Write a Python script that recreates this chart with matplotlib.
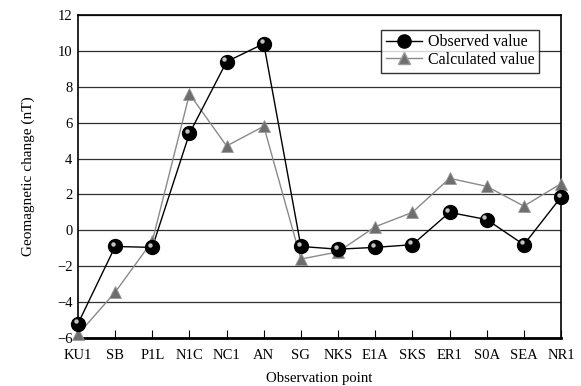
import numpy as np
import matplotlib
matplotlib.use('Agg')
import matplotlib.pyplot as plt
import matplotlib.transforms as mtransforms
from matplotlib.lines import Line2D

plt.rcParams['font.family'] = ['Liberation Serif', 'DejaVu Serif']

# data
stations = ['KU1', 'SB', 'P1L', 'N1C', 'NC1', 'AN', 'SG', 'NKS',
            'E1A', 'SKS', 'ER1', 'S0A', 'SEA', 'NR1']
observed = [-5.2, -0.9, -0.95, 5.4, 9.4, 10.4, -0.9, -1.05,
            -0.95, -0.8, 1.0, 0.6, -0.8, 1.85]
calculated = [-5.8, -3.45, -0.6, 7.6, 4.7, 5.8, -1.6, -1.2,
              0.2, 1.0, 2.9, 2.45, 1.35, 2.6]
yticks = list(range(-6, 13, 2))

x = np.arange(len(stations))

fig = plt.figure(figsize=(5.81, 3.86), dpi=100)
ax = fig.add_axes([78 / 581, 1 - 338 / 386, 483 / 581, 323 / 386])

for t in yticks:
    ax.axhline(t, color='#303030', linewidth=0.9, zorder=1)

ax.plot(x, calculated, color='#8a8a8a', linewidth=1.0, zorder=2)
ax.plot(x, observed, color='black', linewidth=1.0, zorder=3)

ax.plot(x, calculated, linestyle='none', marker='^', markersize=9,
        markerfacecolor='#6e6e6e', markeredgecolor='#9a9a9a',
        markeredgewidth=0.6, zorder=4, clip_on=False)
ax.plot(x, observed, linestyle='none', marker='o', markersize=10,
        markerfacecolor='black', markeredgecolor='black', zorder=5,
        clip_on=False)
# sphere highlight
shift = mtransforms.ScaledTranslation(-1.6 / 72, 1.8 / 72, fig.dpi_scale_trans)
ax.plot(x, observed, linestyle='none', marker='o', markersize=3.2,
        markerfacecolor='#d8d8d8', markeredgecolor='none', alpha=0.9,
        transform=ax.transData + shift, zorder=6, clip_on=False)

ax.set_xlim(0, len(stations) - 1)
ax.set_ylim(-6, 12)
ax.set_xticks(x)
ax.set_xticklabels(stations)
ax.set_yticks(yticks)

ax.tick_params(axis='x', direction='in', length=6, width=0.8, pad=8, labelsize=10.5)
ax.tick_params(axis='y', direction='out', length=0, pad=4, labelsize=10.5)

for s in ['top', 'left', 'right']:
    ax.spines[s].set_linewidth(1.2)
    ax.spines[s].set_color('black')
ax.spines['bottom'].set_linewidth(2.0)

ax.set_xlabel('Observation point', fontsize=10.6, labelpad=7)
ax.set_ylabel('Geomagnetic change (nT)', fontsize=11, labelpad=16)

h_obs = Line2D([], [], color='black', linewidth=1.0, marker='o', markersize=9.5,
               markerfacecolor='black')
h_calc = Line2D([], [], color='#8a8a8a', linewidth=1.0, marker='^', markersize=8.5,
                markerfacecolor='#6e6e6e', markeredgecolor='#9a9a9a')
leg = ax.legend([h_obs, h_calc], ['Observed value', 'Calculated value'],
                loc='upper right', bbox_to_anchor=(0.955, 0.955),
                fontsize=11.5, frameon=True, fancybox=False,
                borderpad=0.3, handlelength=2.3, handletextpad=0.35,
                labelspacing=0.1, borderaxespad=0)
leg.get_frame().set_edgecolor('black')
leg.get_frame().set_linewidth(1.0)
leg.set_zorder(10)

fig.savefig('out.png', dpi=100)
